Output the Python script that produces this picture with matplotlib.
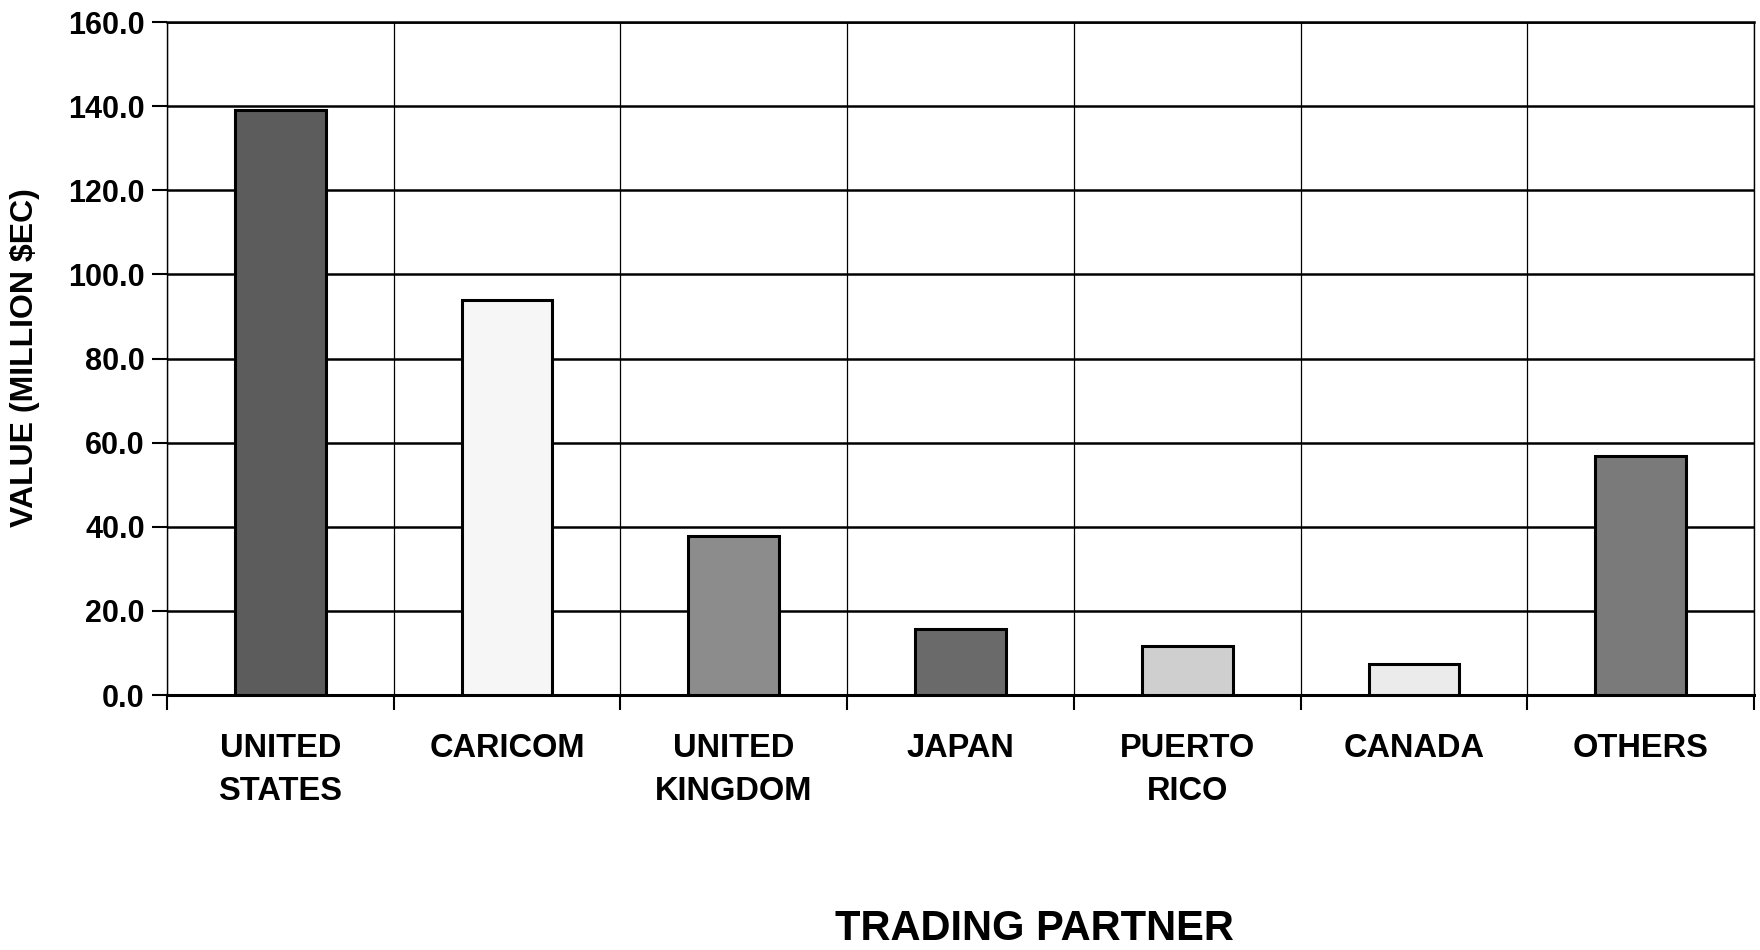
import matplotlib
matplotlib.use("Agg")
import matplotlib.pyplot as plt
import numpy as np

# values (million $EC)
partners = ["UNITED\nSTATES", "CARICOM", "UNITED\nKINGDOM", "JAPAN",
            "PUERTO\nRICO", "CANADA", "OTHERS"]
values = [139.2, 93.8, 37.8, 15.6, 11.6, 7.3, 56.9]
shades = ["#5c5c5c", "#f6f6f6", "#8c8c8c", "#6a6a6a", "#cfcfcf", "#ebebeb", "#7a7a7a"]
yticks = [0, 20, 40, 60, 80, 100, 120, 140, 160]

plt.rcParams["font.family"] = ["Liberation Sans", "DejaVu Sans"]
plt.rcParams["font.weight"] = "bold"

fig = plt.figure(figsize=(17.6, 9.5), dpi=100)
ax = fig.add_axes([0.0949, 0.2684, 0.9017, 0.7084])

x = np.arange(len(partners))
ax.bar(x, values, width=0.4, color=shades, edgecolor="black", linewidth=2.2, zorder=3)

ax.set_xlim(-0.5, len(partners) - 0.5)
ax.set_ylim(0, 160)
ax.set_yticks(yticks)
ax.set_yticklabels([f"{v:.1f}" for v in yticks], fontsize=22, fontweight="bold")

# category labels centred, ticks/grid at category boundaries
ax.set_xticks(x)
ax.set_xticklabels(partners, fontsize=23.5, fontweight="bold", linespacing=1.5)
ax.set_xticks(np.arange(-0.5, len(partners), 1), minor=True)
ax.tick_params(axis="x", which="major", length=0, pad=27)
ax.tick_params(axis="x", which="minor", length=11, width=1.5, direction="out")
ax.tick_params(axis="y", length=11, width=1.5, direction="out", pad=5)

ax.yaxis.grid(True, color="black", linewidth=1.8, zorder=1)
ax.xaxis.grid(True, which="minor", color="black", linewidth=0.9, zorder=1)
ax.xaxis.grid(False, which="major")

ax.spines["bottom"].set_linewidth(2.2)
ax.spines["top"].set_linewidth(1.8)
ax.spines["left"].set_linewidth(1.0)
ax.spines["right"].set_linewidth(1.0)

fig.text(0.0142, 0.624, "VALUE (MILLION $EC)", rotation=90, ha="center", va="center",
         fontsize=23, fontweight="bold")
fig.text(0.588, 0.022, "TRADING PARTNER", ha="center", va="center",
         fontsize=30, fontweight="bold")

fig.savefig("out.png", dpi=100)
